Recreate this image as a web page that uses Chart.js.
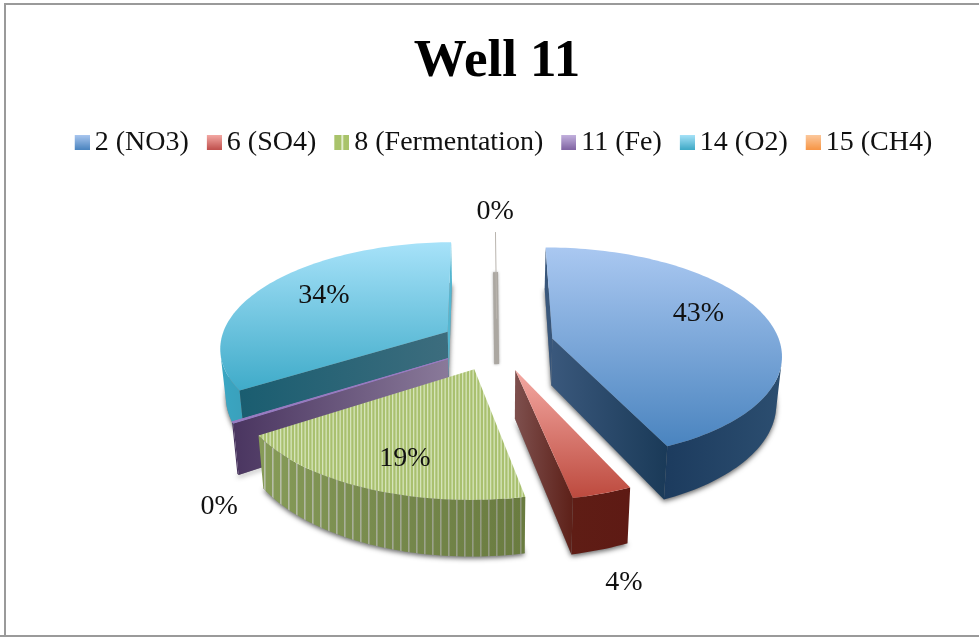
<!DOCTYPE html>
<html><head><meta charset="utf-8">
<script src="https://cdn.jsdelivr.net/npm/chart.js@4/dist/chart.umd.min.js"></script>
<style>html,body{margin:0;padding:0;background:#fff;overflow:hidden}canvas{display:block}</style>
</head><body><canvas id="c" width="979" height="637"></canvas>
<script>
const categories = ['2 (NO3)','6 (SO4)','8 (Fermentation)','11 (Fe)','14 (O2)','15 (CH4)'];
const values = [43.2, 3.6, 19.0, 0.2, 33.8, 0.2];
const explode = [57, 57, 57, 57, 57, 57];
const chartTitle = 'Well 11';
const labelRadius = [0.73, 1.52, 0.744, 1.38, 0.713, 1.297];
const labelTurnDeg = [-9.4, 4.8, -2.6, -22, 5.3, 0];

const VIEW = {R:228, k:0.000605, s:0.461, depth:47, shrink:0.98};
const FONT = '"Liberation Serif", serif';
const mk = (w,h,fn)=>{const c=document.createElement('canvas');c.width=w;c.height=h;fn(c.getContext('2d'));return c;};
const stripes = (period, spec)=>mk(period,4,g=>{spec.forEach(([x,w,col])=>{g.fillStyle=col;g.fillRect(x,0,w,4);});});
const greenTopTile = stripes(7,[[0,7,'#a9c06f'],[0,1.3,'#d6e4ba'],[3.5,1.3,'#d6e4ba']]);
const greenWallTile = stripes(8,[[0,8,'#879c58'],[0,1.6,'#bac0aa']]);

const STYLE = [
 {top:['#aac8f1','#4a84bf'], outer:['#1c3b5e','#2c4e70'], a:['#39577c','#38567a'], b:['#3a587c','#1a3a58']},
 {top:['#f4a9a3','#bd4a3e'], outer:['#5f1d15','#5e1a14'], a:['#7e504e','#5d2018'], b:['#7e504e','#5d2018']},
 {top:'green', outer:'green', a:['#7d9250','#7d9250'], b:['#7d9250','#7d9250'], wallShade:['rgba(0,0,0,0)','rgba(30,40,0,0.28)']},
 {top:['#9a7cc2','#9a7cc2'], outer:['#4a3560','#4a3560'], a:['#4a3560','#8a7a9a'], b:['#4a3560','#8a7a9a']},
 {top:['#a7e2f9','#3fabc9'], outer:['#3aa6c3','#3aa0bb'], a:['#1a5d70','#3d6d7e'], b:['#55b6d0','#55b6d0']},
 {top:['#b9b4ae','#b9b4ae'], sliver:'#aba7a1'}
];
const SWATCH = [
 g=>{const l=g.createLinearGradient(0,0,0,15);l.addColorStop(0,'#abc8f0');l.addColorStop(1,'#4a84bf');return l;},
 g=>{const l=g.createLinearGradient(0,0,0,15);l.addColorStop(0,'#f4aaa5');l.addColorStop(1,'#c0504d');return l;},
 g=>g.createPattern(stripes(9,[[0,9,'#a9c36b'],[2,2,'#e3edcd']]),'repeat'),
 g=>{const l=g.createLinearGradient(0,0,0,15);l.addColorStop(0,'#c4b2de');l.addColorStop(1,'#8064a2');return l;},
 g=>{const l=g.createLinearGradient(0,0,0,15);l.addColorStop(0,'#a8e3f9');l.addColorStop(1,'#3fa9c6');return l;},
 g=>{const l=g.createLinearGradient(0,0,0,15);l.addColorStop(0,'#fcc99e');l.addColorStop(1,'#f79646');return l;}
];
const swatches = SWATCH.map(fn=>mk(19,15,g=>{g.fillStyle=fn(g);g.fillRect(4,0,15,15);}));

function project(cx,cy,wx,wy,low){
  const p=1/(1-VIEW.k*wy);
  let X=wx*p, Y=VIEW.s*wy*p;
  if(low){X*=VIEW.shrink;Y+=VIEW.depth*p;}
  return [cx+X,cy+Y];
}
function area(pts){let a=0;pts.forEach((q,i)=>{const n=pts[(i+1)%pts.length];a+=q[0]*n[1]-n[0]*q[1];});return a/2;}
function trace(ctx,pts){ctx.beginPath();pts.forEach((q,i)=>i?ctx.lineTo(q[0],q[1]):ctx.moveTo(q[0],q[1]));ctx.closePath();}
function hgrad(ctx,pts,cols){
  const xs=pts.map(q=>q[0]);const l=ctx.createLinearGradient(Math.min(...xs),0,Math.max(...xs)+.01,0);
  l.addColorStop(0,cols[0]);l.addColorStop(1,cols[1]);return l;
}
function vgrad(ctx,pts,cols){
  const ys=pts.map(q=>q[1]);const l=ctx.createLinearGradient(0,Math.min(...ys),0,Math.max(...ys)+.01);
  l.addColorStop(0,cols[0]);l.addColorStop(1,cols[1]);return l;
}
const pie3d = {
  id:'pie3d',
  afterLayout(chart){chart.legend.left+=9;chart.legend.right+=9;},
  beforeDraw(chart){
    const ctx=chart.ctx;ctx.save();
    ctx.strokeStyle='#9a9a9a';ctx.lineWidth=2;
    ctx.beginPath();ctx.moveTo(5,700);ctx.lineTo(5,4);ctx.lineTo(1000,4);ctx.moveTo(0,636);ctx.lineTo(1000,636);ctx.stroke();
    ctx.restore();
  },
  beforeDatasetsDraw(chart){
    const ctx=chart.ctx, meta=chart.getDatasetMeta(0);
    const items=meta.data.map((el,i)=>{
      const mid=(el.startAngle+el.endAngle)/2, E=el.options.offset;
      const ox=E*Math.cos(mid), oy=E*Math.sin(mid);
      const n=Math.max(2,Math.ceil((el.endAngle-el.startAngle)/0.025));
      const world=[];
      for(let j=0;j<=n;j++){const a=el.startAngle+(el.endAngle-el.startAngle)*j/n;world.push([ox+VIEW.R*Math.cos(a),oy+VIEW.R*Math.sin(a)]);}
      return {el,i,mid,ox,oy,world,cx:el.x,cy:el.y};
    }).sort((a,b)=>a.oy-b.oy);
    const gTop=ctx.createPattern(greenTopTile,'repeat'), gWall=ctx.createPattern(greenWallTile,'repeat');
    items.forEach(it=>{
      const st=STYLE[it.i], P=(w,low)=>project(it.cx,it.cy,w[0],w[1],low);
      const apex=[it.ox,it.oy];
      const topPts=[P(apex,false),...it.world.map(w=>P(w,false))];
      const lowPts=[P(apex,true),...it.world.map(w=>P(w,true))];
      const sgn=Math.sign(area(topPts));
      const fillOf=(key,pts)=>st[key]==='green'?gWall:hgrad(ctx,pts,st[key]);
      if(st.sliver){
        const far=it.world[Math.floor(it.world.length/2)];
        ctx.save();
        ctx.shadowColor='rgba(0,0,0,0.35)';ctx.shadowBlur=3;
        ctx.strokeStyle=st.sliver;ctx.lineWidth=5;
        const a=P(far,true),b=P(apex,true);
        ctx.beginPath();ctx.moveTo(a[0],a[1]);ctx.lineTo(b[0],b[1]);ctx.stroke();
        ctx.restore();
        ctx.strokeStyle=st.top[0];ctx.lineWidth=1;
        const c=P(far,false),d=P(apex,false);
        ctx.beginPath();ctx.moveTo(c[0],c[1]);ctx.lineTo(d[0],d[1]);ctx.stroke();
        return;
      }
      ctx.save();
      ctx.shadowColor='rgba(0,0,0,0.6)';ctx.shadowBlur=5;ctx.shadowOffsetX=0;ctx.shadowOffsetY=2;
      ctx.fillStyle='#888';trace(ctx,lowPts);ctx.fill();
      ctx.restore();
      let run=[];
      const flush=()=>{
        if(run.length<2){run=[];return;}
        const pts=[...run.map(w=>P(w,false)),...run.slice().reverse().map(w=>P(w,true))];
        ctx.fillStyle=fillOf('outer',pts);trace(ctx,pts);ctx.fill();
        if(st.wallShade){ctx.fillStyle=hgrad(ctx,pts,st.wallShade);ctx.fill();}
        run=[];
      };
      for(let j=0;j<it.world.length-1;j++){
        const a=it.world[j],b=it.world[j+1];
        const q=[P(a,false),P(b,false),P(b,true),P(a,true)];
        if(Math.sign(area(q))===-sgn){if(!run.length)run.push(a);run.push(b);}else flush();
      }
      flush();
      [['a',apex,it.world[0]],['b',it.world[it.world.length-1],apex]].forEach(([key,u,v])=>{
        const q=[P(u,false),P(v,false),P(v,true),P(u,true)];
        if(Math.sign(area(q))===-sgn){
          ctx.fillStyle=fillOf(key,q);trace(ctx,q);ctx.fill();
        }
      });
      ctx.fillStyle=st.top==='green'?gTop:vgrad(ctx,topPts,st.top);
      trace(ctx,topPts);ctx.fill();
      if(it.i===3){ctx.strokeStyle=st.top[0];ctx.lineWidth=1;ctx.stroke();}
    });
    const total=values.reduce((a,b)=>a+b,0);
    ctx.save();
    ctx.font='28px '+FONT;ctx.fillStyle='#111';ctx.textAlign='center';ctx.textBaseline='middle';
    items.forEach(it=>{
      const a=it.mid+labelTurnDeg[it.i]*Math.PI/180, r=VIEW.R*labelRadius[it.i];
      const q=project(it.cx,it.cy,it.ox+r*Math.cos(a),it.oy+r*Math.sin(a),false);
      ctx.fillText(Math.round(values[it.i]/total*100)+'%',q[0],q[1]+2);
    });
    ctx.restore();
    return false;
  }
};
new Chart(document.getElementById('c'),{
  type:'pie',
  data:{labels:categories,datasets:[{data:values,offset:explode,borderWidth:0,backgroundColor:['#4f81bd','#c0504d','#9bbb59','#8064a2','#4bacc6','#f79646']}]},
  plugins:[pie3d],
  options:{
    responsive:false,animation:false,
    layout:{padding:{left:15,right:0,top:10,bottom:115}},
    plugins:{
      tooltip:{enabled:false},
      title:{display:true,text:chartTitle,color:'#000',font:{family:FONT,size:53,weight:'bold'},padding:{top:21,bottom:10.6}},
      legend:{position:'top',labels:{
        color:'#111',font:{family:FONT,size:28},usePointStyle:true,boxWidth:1,boxHeight:15,padding:23,
        generateLabels:()=>categories.map((t,i)=>({text:t,index:i,pointStyle:swatches[i],hidden:false,fontColor:'#111',lineWidth:0}))
      }}
    }
  }
});
</script></body></html>
